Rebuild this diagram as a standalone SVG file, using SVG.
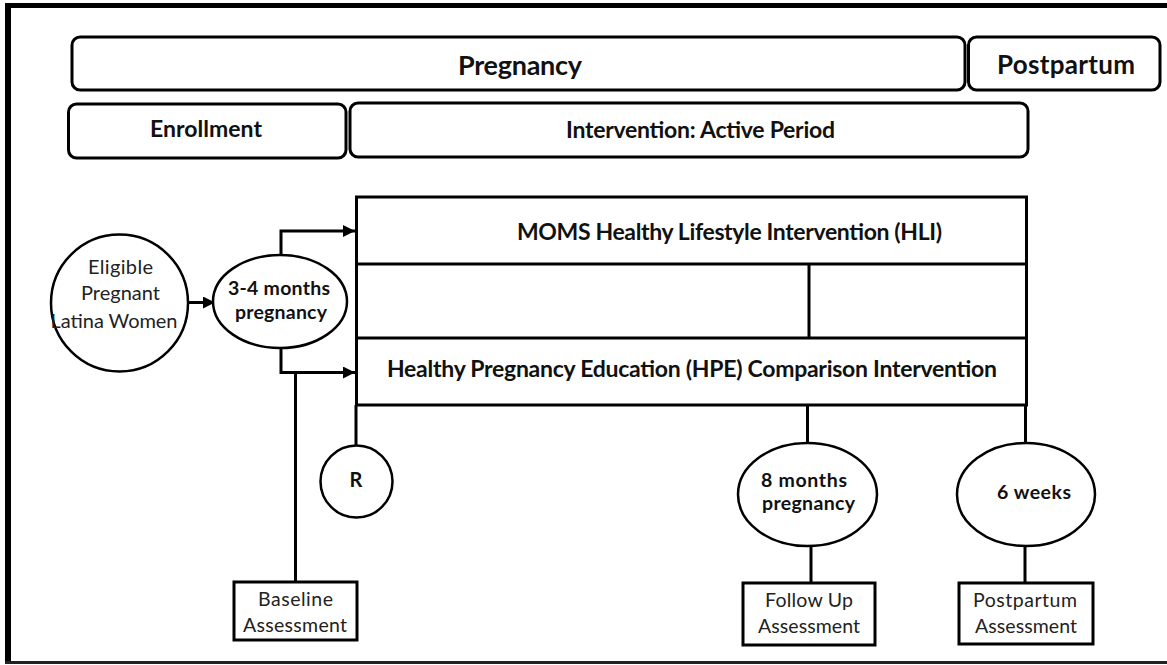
<svg xmlns="http://www.w3.org/2000/svg" width="1167" height="665" viewBox="0 0 1167 665">
  <defs>
    <marker id="arrow" viewBox="0 0 10 10" refX="10" refY="5" markerWidth="4" markerHeight="4" orient="auto" markerUnits="strokeWidth">
      <path d="M0,0 L10,5 L0,10 z" fill="#000"/>
    </marker>
    <style>
      .box { fill: #fff; stroke: #000; stroke-width: 3; }
      .thin { fill: #fff; stroke: #000; stroke-width: 2.5; }
      .line { fill: none; stroke: #000; stroke-width: 3; }
      .b { font-family: Lato, "Liberation Sans", sans-serif; font-weight: bold; fill: #111; text-anchor: middle; }
      .r { font-family: Lato, "Liberation Sans", sans-serif; font-weight: normal; fill: #222; text-anchor: middle; }
    </style>
  </defs>
  <rect x="0" y="0" width="1167" height="665" fill="#fff"/>

  <!-- page frame -->
  <g id="frame">
    <line x1="5" y1="5.5" x2="1167" y2="5.5" stroke="#000" stroke-width="5"/>
    <line x1="8" y1="3" x2="8" y2="664" stroke="#000" stroke-width="6"/>
    <line x1="5" y1="662.5" x2="1167" y2="662.5" stroke="#222" stroke-width="3"/>
  </g>

  <!-- phase bands -->
  <g id="pregnancy">
    <rect class="box" x="72" y="37" width="893" height="53" rx="8"/>
    <text class="b" x="520" y="75" font-size="27" textLength="124">Pregnancy</text>
  </g>
  <g id="postpartum">
    <rect class="box" x="968.5" y="37" width="191.5" height="53" rx="8"/>
    <text class="b" x="1066" y="74" font-size="26" textLength="138">Postpartum</text>
  </g>
  <g id="enrollment">
    <rect class="box" x="68.5" y="104" width="277.5" height="54" rx="8"/>
    <text class="b" x="206" y="137" font-size="23" textLength="112">Enrollment</text>
  </g>
  <g id="active-period">
    <rect class="box" x="350" y="103" width="678" height="54" rx="8"/>
    <text class="b" x="700.5" y="138" font-size="23" textLength="269">Intervention: Active Period</text>
  </g>

  <!-- intervention arms -->
  <g id="arms">
    <rect class="box" x="356.5" y="197" width="670" height="208"/>
    <line class="line" x1="356.5" y1="264" x2="1026.5" y2="264"/>
    <line class="line" x1="356.5" y1="338" x2="1026.5" y2="338"/>
    <line class="line" x1="809" y1="264" x2="809" y2="338"/>
  </g>
  <g id="hli">
    <text class="b" x="729.5" y="240" font-size="23" textLength="425">MOMS Healthy Lifestyle Intervention (HLI)</text>
  </g>
  <g id="hpe">
    <text class="b" x="692" y="377" font-size="23" textLength="610">Healthy Pregnancy Education (HPE) Comparison Intervention</text>
  </g>

  <!-- connectors -->
  <g id="connectors">
    <line class="line" x1="189" y1="302.5" x2="215" y2="302.5" marker-end="url(#arrow)"/>
    <polyline class="line" points="281,255 281,231 355,231" marker-end="url(#arrow)"/>
    <polyline class="line" points="281,348 281,372.5 355,372.5" marker-end="url(#arrow)"/>
    <line class="line" x1="295.5" y1="372.5" x2="295.5" y2="582"/>
    <line class="line" x1="356" y1="405" x2="356" y2="446"/>
    <line class="line" x1="807.5" y1="405" x2="807.5" y2="443"/>
    <line class="line" x1="1025.5" y1="405" x2="1025.5" y2="443"/>
    <line class="line" x1="811" y1="546" x2="811" y2="583"/>
    <line class="line" x1="1025" y1="546" x2="1025" y2="583"/>
  </g>

  <!-- participants -->
  <g id="eligible">
    <circle class="thin" cx="119.5" cy="303" r="68.5"/>
    <text class="r" x="120.5" y="274" font-size="20" textLength="65">Eligible</text>
    <text class="r" x="120.5" y="300" font-size="20" textLength="79">Pregnant</text>
    <text class="r" x="114" y="328" font-size="20" textLength="127">Latina Women</text>
  </g>
  <g id="early-pregnancy">
    <ellipse class="thin" cx="280" cy="301.5" rx="67" ry="46.5"/>
    <text class="b" x="279" y="295" font-size="19.5" textLength="102">3-4 months</text>
    <text class="b" x="281" y="319" font-size="19.5" textLength="92">pregnancy</text>
  </g>
  <g id="randomization">
    <circle class="thin" cx="356.5" cy="481.5" r="36"/>
    <text class="b" x="356" y="487" font-size="20">R</text>
  </g>
  <g id="late-pregnancy">
    <ellipse class="thin" cx="807.5" cy="494.5" rx="69.5" ry="51.5"/>
    <text class="b" x="804" y="487" font-size="19.5" textLength="86">8 months</text>
    <text class="b" x="808.5" y="510" font-size="19.5" textLength="93">pregnancy</text>
  </g>
  <g id="six-weeks">
    <ellipse class="thin" cx="1026" cy="494.5" rx="69" ry="51.5"/>
    <text class="b" x="1034" y="499" font-size="19.5" textLength="74">6 weeks</text>
  </g>

  <!-- assessments -->
  <g id="baseline-assessment">
    <rect class="box" x="234" y="582" width="123" height="58"/>
    <text class="r" x="295.5" y="606" font-size="19.5" textLength="75">Baseline</text>
    <text class="r" x="295" y="632" font-size="19.5" textLength="104">Assessment</text>
  </g>
  <g id="followup-assessment">
    <rect class="box" x="743" y="583" width="132" height="62"/>
    <text class="r" x="809" y="607" font-size="19.5" textLength="88">Follow Up</text>
    <text class="r" x="809" y="633" font-size="19.5" textLength="102">Assessment</text>
  </g>
  <g id="postpartum-assessment">
    <rect class="box" x="959" y="583" width="134" height="61"/>
    <text class="r" x="1025" y="607" font-size="19.5" textLength="104">Postpartum</text>
    <text class="r" x="1026" y="633" font-size="19.5" textLength="102">Assessment</text>
  </g>
</svg>
